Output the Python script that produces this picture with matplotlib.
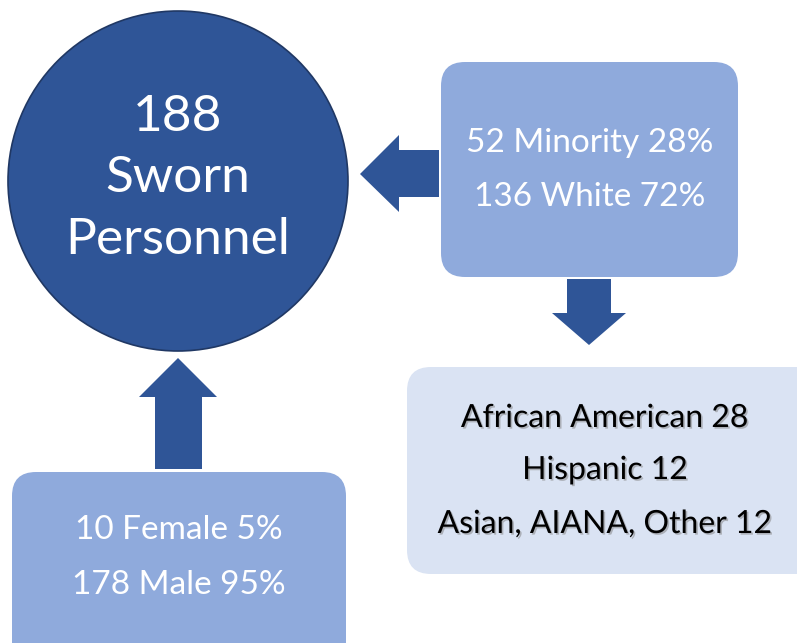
import matplotlib.pyplot as plt
import matplotlib.patheffects as pe
from matplotlib.patches import Circle, FancyBboxPatch, Polygon

plt.rcParams['font.family'] = ['Lato', 'DejaVu Sans']

# chart text
total_lines = ["188", "Sworn", "Personnel"]
race_lines = ["52 Minority 28%", "136 White 72%"]
minority_lines = ["African American 28", "Hispanic 12", "Asian, AIANA, Other 12"]
gender_lines = ["10 Female 5%", "178 Male 95%"]

dark = "#2F5597"
mid = "#8FAADC"
light = "#DAE3F3"

W, H = 797, 643
fig = plt.figure(figsize=(W / 100, H / 100), dpi=100)
ax = fig.add_axes([0, 0, 1, 1])
ax.set_xlim(0, W)
ax.set_ylim(H, 0)
ax.axis("off")


def rbox(x0, y0, x1, y1, color):
    ax.add_patch(FancyBboxPatch((x0, y0), x1 - x0, y1 - y0,
                                boxstyle="round,pad=0,rounding_size=24",
                                fc=color, ec="none"))


def lines(cx, ys, texts, size, color, shadow=False):
    for y, t in zip(ys, texts):
        kw = {}
        if shadow:
            kw["path_effects"] = [pe.withSimplePatchShadow(offset=(1.2, -1.2),
                                                            shadow_rgbFace="#7f7f7f",
                                                            alpha=0.5)]
        ax.text(cx, y, t, ha="center", va="center", fontsize=size,
                color=color, **kw)


# big circle
ax.add_patch(Circle((178, 181), 170, fc=dark, ec="#203864", lw=1.2))
lines(178, [117, 178, 240], total_lines, 37, "white")

# boxes
rbox(441, 62, 738, 277, mid)
lines(590, [143, 197], race_lines, 24, "white")

rbox(407, 367, 820, 574, light)
lines(605, [418, 470, 524], minority_lines, 23, "black", shadow=True)

rbox(12, 472, 346, 680, mid)
lines(179, [530, 585], gender_lines, 24, "white")

# arrows
ax.add_patch(Polygon([(439, 150), (399, 150), (399, 135), (360, 174),
                      (399, 212), (399, 197), (439, 197)], fc=dark, ec="none"))
ax.add_patch(Polygon([(567, 279), (611, 279), (611, 313), (626, 313),
                      (589, 345), (552, 313), (567, 313)], fc=dark, ec="none"))
ax.add_patch(Polygon([(155, 469), (155, 397), (139, 397), (178, 358),
                      (217, 397), (202, 397), (202, 469)], fc=dark, ec="none"))

fig.savefig("out.png", dpi=100)
